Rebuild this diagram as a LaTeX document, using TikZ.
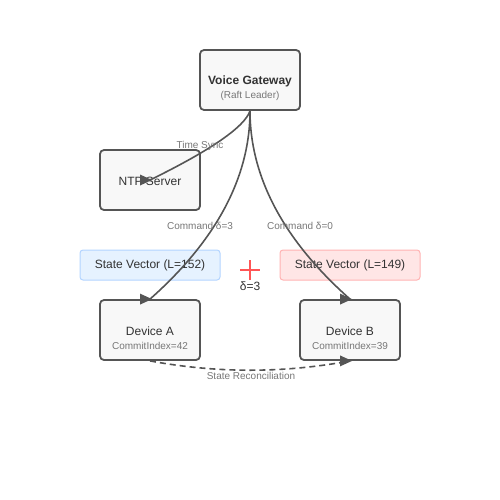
\documentclass[tikz,border=0pt]{standalone}
\usepackage{fontspec}
\setmainfont{Liberation Sans}
\definecolor{boxfill}{HTML}{F8F8F8}
\definecolor{boxline}{HTML}{555555}
\definecolor{txt}{HTML}{333333}
\definecolor{subtxt}{HTML}{777777}
\definecolor{blfill}{HTML}{E6F2FF}
\definecolor{blline}{HTML}{B3D4FF}
\definecolor{rdfill}{HTML}{FFE6E6}
\definecolor{rdline}{HTML}{FFB3B3}
\definecolor{crossred}{HTML}{FF5555}
\tikzset{
  devbox/.style={draw=boxline, fill=boxfill, line width=1.8pt, rounded corners=4pt,
    minimum width=100pt, minimum height=60pt, inner sep=0pt},
  vecbox/.style={line width=1pt, rounded corners=3pt, minimum width=140pt,
    minimum height=30pt, inner sep=0pt, text=txt, font=\fontsize{12}{14}\selectfont},
  maintxt/.style={text=txt, inner sep=0pt, font=\fontsize{12}{14}\selectfont},
  subt/.style={text=subtxt, inner sep=0pt, font=\fontsize{10}{12}\selectfont},
  conn/.style={draw=boxline, line width=1.6pt},
  tipfill/.style={fill=boxline},
}
\begin{document}
\begin{tikzpicture}[x=1pt,y=-1pt]
\useasboundingbox (0,0) rectangle (500,500);
% boxes
\node[devbox] (gw) at (250,80) {};
\node[maintxt, font=\bfseries\fontsize{12}{14}\selectfont] (gwt) at (250,81) {Voice Gateway};
\node[subt] (gws) at (250,96) {(Raft Leader)};
\node[devbox] (ntp) at (150,180) {};
\node[maintxt] (ntpt) at (150,181) {NTP Server};
\node[devbox] (da) at (150,330) {};
\node[maintxt] (dat) at (150,331) {Device A};
\node[subt] (das) at (150,346) {CommitIndex=42};
\node[devbox] (db) at (350,330) {};
\node[maintxt] (dbt) at (350,331) {Device B};
\node[subt] (dbs) at (350,346) {CommitIndex=39};
% state vectors
\node[vecbox, draw=blline, fill=blfill] (sva) at (150,265) {State Vector (L=152)};
\node[vecbox, draw=rdline, fill=rdfill] (svb) at (350,265) {State Vector (L=149)};
% cross
\coordinate (cr) at (250,270);
\draw[crossred, line width=1.8pt] ([xshift=-10pt]cr) -- ([xshift=10pt]cr);
\draw[crossred, line width=1.8pt] ([yshift=10pt]cr) -- ([yshift=-10pt]cr);
\node[maintxt] (delta) at (250,286) {δ=3};
% connectors
\draw[conn] (gw.south) .. controls (244.7,126.7) and (211.3,150) .. (ntp.center);
\draw[conn] (gw.south) .. controls (250,176.7) and (216.7,240) .. (da.north);
\draw[conn] (gw.south) .. controls (250,176.7) and (283.3,240) .. (db.north);
\draw[conn, dash pattern=on 6pt off 4pt] (da.south) .. controls (216.7,373.3) and (283.3,373.3) .. (db.south);
% arrowheads (fixed, pointing right)
\fill[tipfill] ([xshift=2pt]ntp.center) -- ++(-12,-5.5) -- ++(0,11) -- cycle;
\fill[tipfill] ([xshift=2pt]da.north) -- ++(-12,-5.5) -- ++(0,11) -- cycle;
\fill[tipfill] ([xshift=2pt]db.north) -- ++(-12,-5.5) -- ++(0,11) -- cycle;
\fill[tipfill] ([xshift=2pt]db.south) -- ++(-12,-5.5) -- ++(0,11) -- cycle;
% labels
\node[subt] (lts) at (200,146) {Time Sync};
\node[subt] (lca) at (200,226) {Command δ=3};
\node[subt] (lcb) at (300,226) {Command δ=0};
\node[subt] (lsr) at (251,376) {State Reconciliation};
\end{tikzpicture}
\end{document}
